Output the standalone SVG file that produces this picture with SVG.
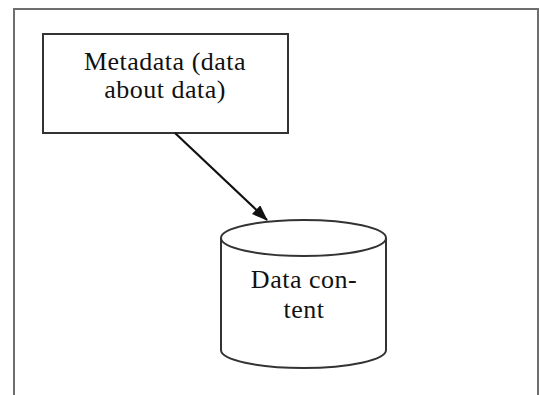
<svg xmlns="http://www.w3.org/2000/svg" width="540" height="395" viewBox="0 0 540 395">
<style>
.frame{fill:none;stroke:#6e6e6e;stroke-width:2}
.shape{fill:#fff;stroke:#333;stroke-width:2}
.lbl{font-family:"Liberation Serif","DejaVu Serif",serif;font-size:26px;letter-spacing:0.5px;fill:#111;text-anchor:middle}
.edge{stroke:#111;stroke-width:2.2;fill:none}
</style>
<defs>
<marker id="ah" markerWidth="16" markerHeight="12" refX="15" refY="6" orient="auto" markerUnits="userSpaceOnUse">
<path d="M0,0 L16,6 L0,12 Z" fill="#111"/>
</marker>
</defs>
<path class="frame" d="M14,395 V9 H538 V395"/>
<g id="metadata">
<rect class="shape" x="43" y="34" width="245" height="99"/>
<text class="lbl" x="165" y="70">Metadata (data</text>
<text class="lbl" x="165" y="98">about data)</text>
</g>
<g id="content">
<path class="shape" d="M221,238 V350 A82.5,18 0 0 0 386,350 V238"/>
<ellipse class="shape" cx="303.5" cy="238" rx="82.5" ry="18"/>
<text class="lbl" x="304" y="288">Data con-</text>
<text class="lbl" x="304" y="318">tent</text>
</g>
<g id="connectors">
<line class="edge" x1="175" y1="133" x2="267" y2="220" marker-end="url(#ah)"/>
</g>
</svg>
